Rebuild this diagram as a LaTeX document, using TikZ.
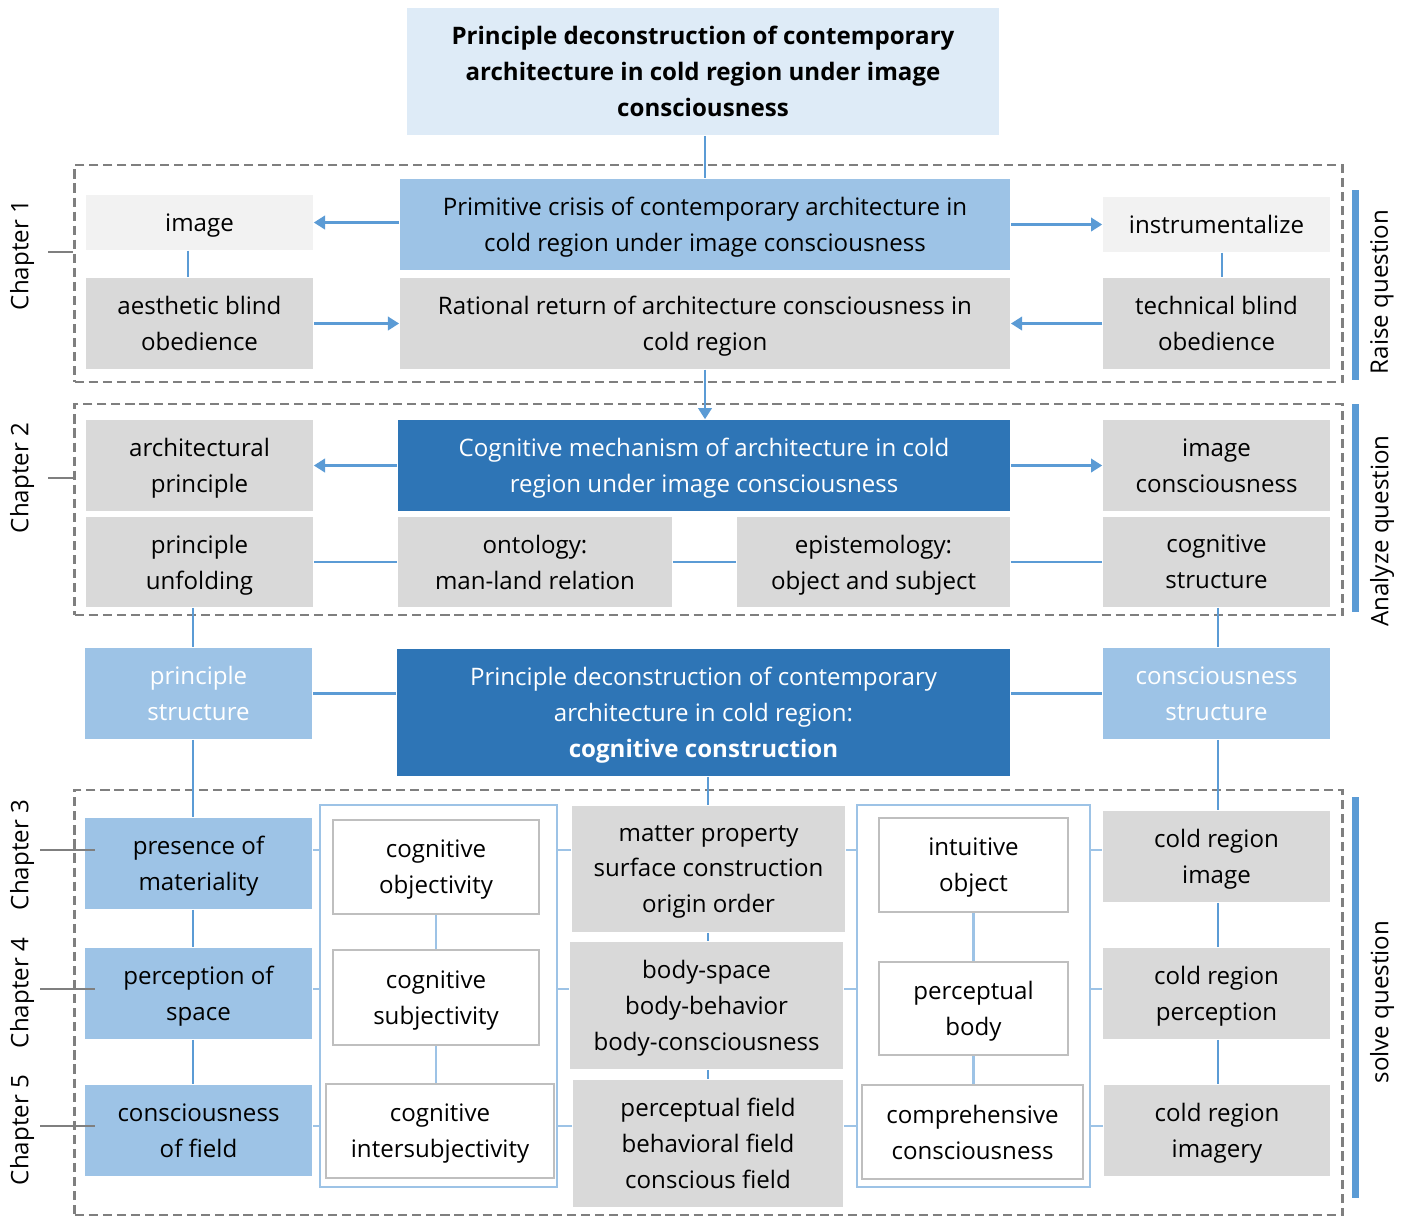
\documentclass[tikz,border=0pt]{standalone}
\usepackage{fontspec}
\setmainfont{Open Sans}
\usepackage{tikz}
\usetikzlibrary{arrows.meta}
\definecolor{dark}{RGB}{46, 117, 182}
\definecolor{mid}{RGB}{157, 195, 230}
\definecolor{light}{RGB}{222, 235, 247}
\definecolor{linkc}{RGB}{91, 155, 213}
\definecolor{paleg}{RGB}{242, 242, 242}
\definecolor{grayb}{RGB}{217, 217, 217}
\definecolor{dashg}{RGB}{127, 127, 127}
\definecolor{rimg}{RGB}{191, 191, 191}
\newcommand{\boxfont}{\fontsize{6.85}{10.2}\selectfont}
\tikzset{
  box/.style={inner sep=0pt, align=center, text depth=0pt, font=\boxfont},
  lgray/.style={box, fill=paleg},
  dgray/.style={box, fill=grayb},
  midb/.style={box, fill=mid},
  darkb/.style={box, fill=dark, text=white},
  wbox/.style={box, fill=white, draw=rimg, line width=0.6pt},
  blueframe/.style={draw=mid, line width=0.6pt, inner sep=0pt},
  chapbox/.style={draw=dashg, line width=0.7pt, dash pattern=on 2.6pt off 1.4pt, inner sep=0pt},
  chaptick/.style={draw=dashg, line width=0.6pt},
  sidebar/.style={fill=linkc, inner sep=0pt, minimum width=0.07cm},
  link/.style={draw=linkc, line width=0.8pt},
  thinlink/.style={draw=mid, line width=0.8pt},
  linkarrow/.style={link, -{Triangle[length=3.2pt, width=3.8pt]}},
  sidelabel/.style={rotate=90, font=\boxfont}
}

\begin{document}
\begin{tikzpicture}[x=0.01cm, y=-0.01cm]

  \useasboundingbox (0, 0) rectangle (1413, 1217);

  % groups of chapters
  \node[chapbox, minimum width=12.67cm, minimum height=2.17cm] (grp1) at (708.5, 273.5) {};
  \node[chapbox, minimum width=12.67cm, minimum height=2.11cm] (grp2) at (708.5, 509.5) {};
  \node[chapbox, minimum width=12.67cm, minimum height=4.25cm] (grp3) at (708.5, 1002.5) {};

  \node[lgray, fill=light, font=\boxfont\bfseries, minimum width=5.92cm, minimum height=1.27cm] (title) at (703, 71.5)
    {Principle deconstruction of contemporary\\ architecture in cold region under image\\ consciousness};

  % chapter 1
  \node[lgray, minimum width=2.27cm, minimum height=0.55cm] (image) at (199.5, 222.5) {image};
  \node[dgray, minimum width=2.27cm, minimum height=0.91cm] (aesth) at (199.5, 323.5) {aesthetic blind\\ obedience};
  \node[midb, minimum width=6.10cm, minimum height=0.91cm] (crisis) at (705, 224.5)
    {Primitive crisis of contemporary architecture in\\ cold region under image consciousness};
  \node[dgray, minimum width=6.10cm, minimum height=0.91cm] (rational) at (705, 323.5)
    {Rational return of architecture consciousness in\\ cold region};
  \node[lgray, minimum width=2.27cm, minimum height=0.55cm] (instr) at (1216.5, 224.5) {instrumentalize};
  \node[dgray, minimum width=2.27cm, minimum height=0.91cm] (techn) at (1216.5, 323.5) {technical blind\\ obedience};

  % chapter 2
  \node[dgray, minimum width=2.27cm, minimum height=0.91cm] (archp) at (199.5, 465.5) {architectural\\ principle};
  \node[darkb, minimum width=6.12cm, minimum height=0.91cm] (mech) at (704, 465.5)
    {Cognitive mechanism of architecture in cold\\ region under image consciousness};
  \node[dgray, minimum width=2.27cm, minimum height=0.91cm] (imgc) at (1216.5, 465.5) {image\\ consciousness};
  \node[dgray, minimum width=2.27cm, minimum height=0.90cm] (unfold) at (199.5, 562) {principle\\ unfolding};
  \node[dgray, minimum width=2.74cm, minimum height=0.90cm] (onto) at (535, 562) {ontology:\\ man-land relation};
  \node[dgray, minimum width=2.73cm, minimum height=0.90cm] (epist) at (873.5, 562) {epistemology:\\ object and subject};
  \node[dgray, minimum width=2.27cm, minimum height=0.90cm] (cogs) at (1216.5, 562) {cognitive\\ structure};

  % construction
  \node[midb, text=white, minimum width=2.27cm, minimum height=0.91cm] (pstruct) at (198.5, 693.5) {principle\\ structure};
  \node[darkb, minimum width=6.13cm, minimum height=1.27cm] (central) at (703.5, 712.5)
    {Principle deconstruction of contemporary\\ architecture in cold region:\\ \textbf{cognitive construction}};
  \node[midb, text=white, minimum width=2.27cm, minimum height=0.91cm] (cstruct) at (1216.5, 693.5) {consciousness\\ structure};

  % chapters 3 to 5
  \node[blueframe, minimum width=2.37cm, minimum height=3.82cm] (frameL) at (438.5, 996) {};
  \node[blueframe, minimum width=2.33cm, minimum height=3.82cm] (frameR) at (973.5, 996) {};

  \node[midb, minimum width=2.27cm, minimum height=0.91cm] (pres) at (198.5, 863.5) {presence of\\ materiality};
  \node[midb, minimum width=2.27cm, minimum height=0.91cm] (perc) at (198.5, 993.5) {perception of\\ space};
  \node[midb, minimum width=2.27cm, minimum height=0.91cm] (cfield) at (198.5, 1130.5) {consciousness\\ of field};

  \node[wbox, minimum width=2.06cm, minimum height=0.94cm] (cobj) at (436, 867) {cognitive\\ objectivity};
  \node[wbox, minimum width=2.06cm, minimum height=0.95cm] (csub) at (436, 997.5) {cognitive\\ subjectivity};
  \node[wbox, minimum width=2.28cm, minimum height=0.94cm] (cinter) at (440, 1131) {cognitive\\ intersubjectivity};

  \node[dgray, minimum width=2.73cm, minimum height=1.26cm] (matter) at (708.5, 869)
    {matter property\\ surface construction\\ origin order};
  \node[dgray, minimum width=2.73cm, minimum height=1.27cm] (bodysp) at (706.5, 1005.5)
    {body-space\\ body-behavior\\ body-consciousness};
  \node[dgray, minimum width=2.70cm, minimum height=1.27cm] (pfield) at (708, 1143.5)
    {perceptual field\\ behavioral field\\ conscious field};

  \node[wbox, minimum width=1.89cm, minimum height=0.94cm] (intu) at (973.5, 865) {intuitive\\ object};
  \node[wbox, minimum width=1.89cm, minimum height=0.93cm] (pbody) at (973.5, 1008.5) {perceptual\\ body};
  \node[wbox, minimum width=2.21cm, minimum height=0.94cm] (compr) at (972.5, 1132) {comprehensive\\ consciousness};

  \node[dgray, minimum width=2.27cm, minimum height=0.91cm] (crimg) at (1216.5, 856.5) {cold region\\ image};
  \node[dgray, minimum width=2.27cm, minimum height=0.91cm] (crperc) at (1216.5, 993.5) {cold region\\ perception};
  \node[dgray, minimum width=2.26cm, minimum height=0.91cm] (crimag) at (1217, 1130.5) {cold region\\ imagery};

  % chapter labels and side bars
  \foreach \n/\y/\a/\b in {1/255/48/252, 2/478/48/478, 3/855/40/850, 4/993/40/989, 5/1130/40/1126} {
    \node[sidelabel] (ch\n) at (22, \y) {Chapter \n};
    \coordinate (tk\n) at (\a, \b);
  }
  \draw[chaptick] (tk1) -- (tk1 -| grp1.west);
  \draw[chaptick] (tk2) -- (tk2 -| grp2.west);
  \foreach \n in {3, 4, 5}
    \draw[chaptick] (tk\n) -- ++(55, 0);

  \node[sidebar, minimum height=1.90cm] (bar1) at (1355, 285) {};
  \node[sidebar, minimum height=2.08cm] (bar2) at (1355, 508) {};
  \node[sidebar, minimum height=4.01cm] (bar3) at (1355, 997.5) {};
  \node[sidelabel] (raise) at (1382, 292) {Raise question};
  \node[sidelabel] (analyze) at (1382, 531) {Analyze question};
  \node[sidelabel] (solve) at (1382, 1002) {solve question};

  % columns of the vertical connectors
  \coordinate (xa) at (188, 0);
  \coordinate (xb) at (1222, 0);
  \coordinate (xl) at (193, 0);
  \coordinate (xr) at (1218, 0);
  \coordinate (xm) at (705, 0);
  \coordinate (xc) at (708, 0);

  % connectors
  \draw[link] (title.south -| xm) -- (crisis.north -| xm);
  \draw[linkarrow] (crisis.west |- image) -- (image.east);
  \draw[linkarrow] (crisis.east |- instr) -- (instr.west);
  \draw[linkarrow] (aesth.east) -- (rational.west);
  \draw[linkarrow] (techn.west) -- (rational.east);
  \draw[link] (image.south -| xa) -- (aesth.north -| xa);
  \draw[link] (instr.south -| xb) -- (techn.north -| xb);
  \draw[linkarrow] (rational.south -| xm) -- (mech.north -| xm);

  \draw[linkarrow] (mech.west |- archp) -- (archp.east);
  \draw[linkarrow] (mech.east |- imgc) -- (imgc.west);
  \draw[link] (unfold.east) -- (onto.west);
  \draw[link] (onto.east) -- (epist.west);
  \draw[link] (epist.east) -- (cogs.west);
  \draw[link] (unfold.south -| xl) -- (pstruct.north -| xl);
  \draw[link] (cogs.south -| xr) -- (cstruct.north -| xr);

  \draw[link] (pstruct.east) -- (central.west |- pstruct);
  \draw[link] (central.east |- cstruct) -- (cstruct.west);
  \draw[link] (pstruct.south -| xl) -- (pres.north -| xl);
  \draw[link] (cstruct.south -| xr) -- (crimg.north -| xr);
  \draw[link] (central.south -| xc) -- (matter.north -| xc);

  \draw[link] (pres.south -| xl) -- (perc.north -| xl);
  \draw[link] (perc.south -| xl) -- (cfield.north -| xl);
  \draw[link] (matter.south -| xc) -- (bodysp.north -| xc);
  \draw[link] (bodysp.south -| xc) -- (pfield.north -| xc);
  \draw[link] (crimg.south -| xr) -- (crperc.north -| xr);
  \draw[link] (crperc.south -| xr) -- (crimag.north -| xr);
  \draw[thinlink] (cobj.south) -- (csub.north);
  \draw[thinlink] (csub.south) -- (cinter.north -| csub);
  \draw[thinlink] (intu) -- (pbody) -- (compr.north -| pbody);

  \foreach \r/\a/\b/\c in {850/pres/matter/crimg, 989/perc/bodysp/crperc, 1126/cfield/pfield/crimag} {
    \coordinate (row) at (0, \r);
    \draw[thinlink] (\a.east |- row) -- (frameL.west |- row);
    \draw[thinlink] (frameL.east |- row) -- (\b.west |- row);
    \draw[thinlink] (\b.east |- row) -- (frameR.west |- row);
    \draw[thinlink] (frameR.east |- row) -- (\c.west |- row);
  }

\end{tikzpicture}
\end{document}
